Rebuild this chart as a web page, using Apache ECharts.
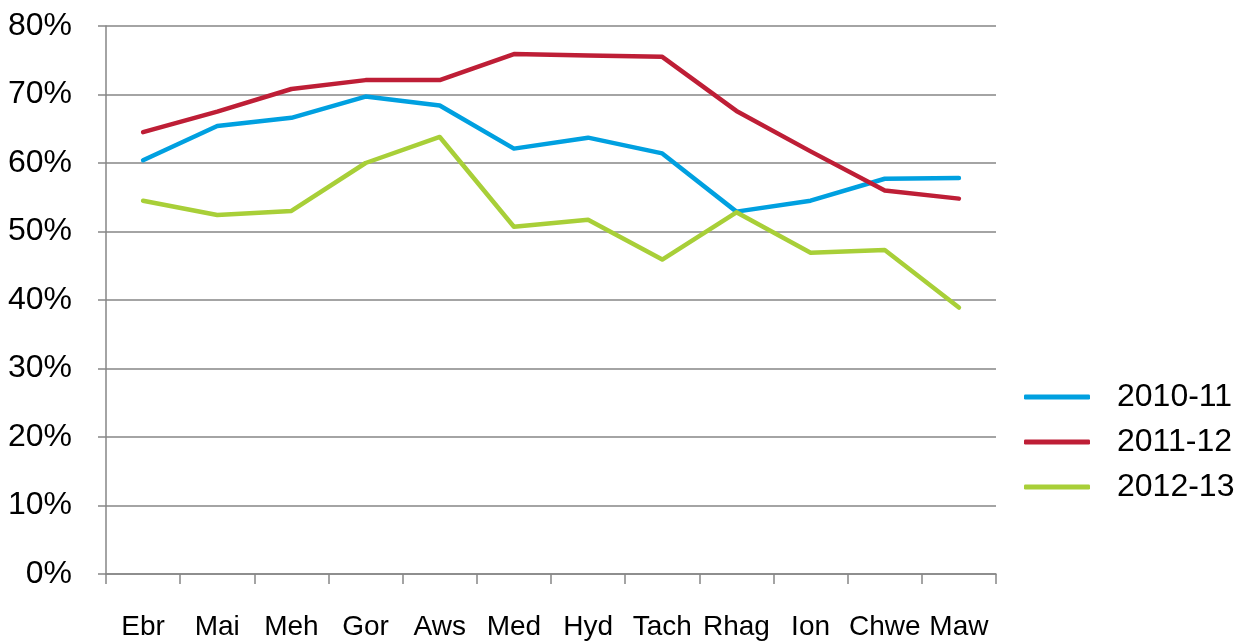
<!DOCTYPE html>
<html><head><meta charset="utf-8">
<script src="https://cdn.jsdelivr.net/npm/echarts@6/dist/echarts.min.js"></script>
<style>html,body{margin:0;padding:0;background:#fff}#c{width:1244px;height:641px}</style>
</head><body><div id="c"></div>
<script>
const categories = ['Ebr','Mai','Meh','Gor','Aws','Med','Hyd','Tach','Rhag','Ion','Chwe','Maw'];
const s2010 = [60.4,65.4,66.6,69.7,68.4,62.1,63.7,61.4,52.9,54.5,57.7,57.8];
const s2011 = [64.5,67.5,70.8,72.1,72.1,75.9,75.7,75.5,67.6,61.7,56.0,54.8];
const s2012 = [54.5,52.4,53.0,60.0,63.8,50.7,51.7,45.9,52.8,46.9,47.3,38.9];
const seriesNames = ['2010-11','2011-12','2012-13'];
const colors = ['#00A0E0','#BE1E36','#A8CF38'];
const font = 'Liberation Sans, Arial, sans-serif';
const chart = echarts.init(document.getElementById('c'), null, {renderer:'canvas'});
const mk = (name, data, color) => ({
  name, type:'line', data, symbol:'none', smooth:false,
  lineStyle:{color, width:4.5, cap:'round', join:'round'}, itemStyle:{color}
});
chart.setOption({
  animation:false,
  color: colors,
  grid:{left:106, right:248, top:26, bottom:64, containLabel:false},
  legend:{
    orient:'vertical', left:1019, top:375,
    icon:'roundRect', itemWidth:66, itemHeight:5, itemGap:11,
    textStyle:{fontFamily:font, fontSize:32, color:'#000', padding:[0,0,0,22], lineHeight:34},
    data: seriesNames
  },
  xAxis:{
    type:'category', data:categories, boundaryGap:true,
    axisLine:{lineStyle:{color:'#868686', width:1.5}},
    axisTick:{show:true, length:10, alignWithLabel:false, lineStyle:{color:'#868686', width:1.5}},
    axisLabel:{fontFamily:font, fontSize:28, color:'#000', margin:39, interval:0}
  },
  yAxis:{
    type:'value', min:0, max:80, interval:10,
    axisLine:{show:true, lineStyle:{color:'#868686', width:1.5}},
    axisTick:{show:true, length:8, lineStyle:{color:'#868686', width:1.5}},
    splitLine:{lineStyle:{color:'#868686', width:1.5}},
    axisLabel:{fontFamily:font, fontSize:32, color:'#000', margin:34, padding:[6,0,0,0], formatter:'{value}%'}
  },
  series:[mk(seriesNames[0], s2010, colors[0]), mk(seriesNames[1], s2011, colors[1]), mk(seriesNames[2], s2012, colors[2])]
});
</script></body></html>
